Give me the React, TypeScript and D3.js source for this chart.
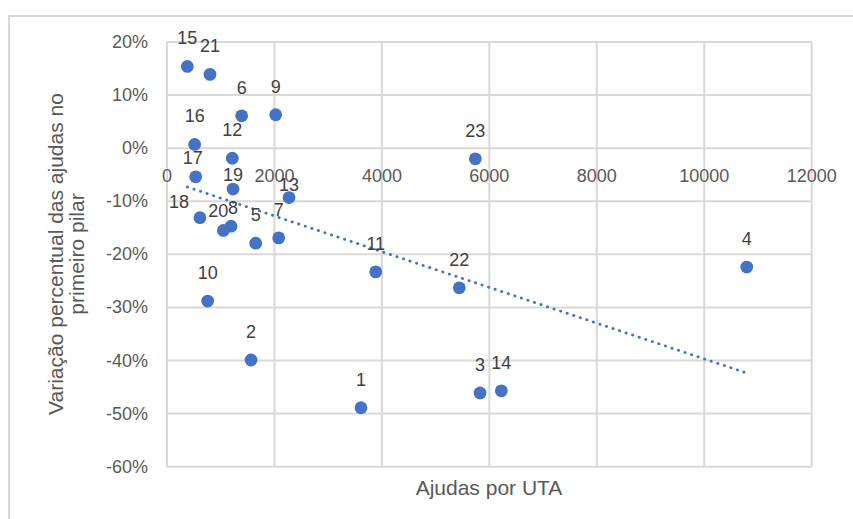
import React from "react";
import * as d3 from "d3";

// Regiões numeradas: ajudas por UTA vs variação percentual das ajudas no primeiro pilar
const regionIds = [1, 2, 3, 4, 5, 6, 7, 8, 9, 10, 11, 12, 13, 14, 15, 16, 17, 18, 19, 20, 21, 22, 23];
const ajudasPorUta = [3611, 1564, 5827, 10791, 1651, 1390, 2079, 1191, 2023, 757, 3885, 1216, 2271, 6223, 378, 515, 534, 614, 1229, 1049, 800, 5441, 5739];
const variacaoPct = [-48.9, -39.9, -46.1, -22.4, -17.9, 6.1, -16.9, -14.7, 6.3, -28.8, -23.3, -1.9, -9.3, -45.7, 15.4, 0.7, -5.4, -13.1, -7.7, -15.5, 13.9, -26.3, -2.0];

const xTicks = [0, 2000, 4000, 6000, 8000, 10000, 12000];
const yTicks = [20, 10, 0, -10, -20, -30, -40, -50, -60];

const xTitle = "Ajudas por UTA";
const yTitleLines = ["Variação percentual das ajudas no", "primeiro pilar"];

// Hand-placed label nudges for crowded points (default: centred above)
const labelNudge: Record<number, [number, number]> = {
  18: [-21, -16],
  20: [-5, -19],
  8: [2, -18],
  13: [0, -13],
  19: [0, -14],
  17: [-3, -19],
};

const W = 853;
const H = 519;
const BLUE = "#4472C4";
const GRID = "#d9d9d9";
const TEXT = "#595959";
const FONT = "'Liberation Sans', Arial, sans-serif";

export default function App() {
  const x = d3.scaleLinear().domain([0, 12000]).range([167, 811.7]);
  const y = d3.scaleLinear().domain([-60, 20]).range([466.7, 42]);

  const pts = regionIds.map((id, i) => ({ id, x: ajudasPorUta[i], y: variacaoPct[i] }));

  // Linear least-squares trendline over the data range
  const mx = d3.mean(pts, (p) => p.x)!;
  const my = d3.mean(pts, (p) => p.y)!;
  const sxy = d3.sum(pts, (p) => (p.x - mx) * (p.y - my));
  const sxx = d3.sum(pts, (p) => (p.x - mx) * (p.x - mx));
  const slope = sxy / sxx;
  const intercept = my - slope * mx;
  const [x0, x1] = d3.extent(pts, (p) => p.x) as [number, number];
  const trend = d3.line<number>()
    .x((v) => x(v))
    .y((v) => y(intercept + slope * v))([x0, x1]);

  return (
    <svg
      width={W}
      height={H}
      style={{ position: "absolute", left: 0, top: 0, background: "#fff" }}
      fontFamily={FONT}
    >
      <rect x={9} y={16} width={W + 20} height={H + 20} fill="#fff" stroke={GRID} strokeWidth={2} />

      {/* gridlines */}
      {yTicks.map((t) => (
        <line key={"gy" + t} x1={x(0)} x2={x(12000)} y1={y(t)} y2={y(t)} stroke={GRID} strokeWidth={2} />
      ))}
      {xTicks.map((t) => (
        <line key={"gx" + t} x1={x(t)} x2={x(t)} y1={y(20)} y2={y(-60)} stroke={GRID} strokeWidth={2} />
      ))}

      {/* y tick labels */}
      {yTicks.map((t) => (
        <text key={"ty" + t} x={148} y={y(t)} textAnchor="end" dominantBaseline="central" fontSize={18} fill={TEXT}>
          {t + "%"}
        </text>
      ))}
      {/* x tick labels, sitting under the 0% axis */}
      {xTicks.map((t) => (
        <text key={"tx" + t} x={x(t)} y={y(0) + 28} textAnchor="middle" dominantBaseline="central" fontSize={18} fill={TEXT}>
          {t}
        </text>
      ))}

      {/* trendline */}
      <path
        d={trend ?? ""}
        fill="none"
        stroke={BLUE}
        strokeWidth={2.8}
        strokeLinecap="round"
        strokeDasharray="0.3 6.6"
      />

      {/* points */}
      {pts.map((p) => (
        <circle key={"c" + p.id} cx={x(p.x)} cy={y(p.y)} r={6.4} fill={BLUE} />
      ))}

      {/* point labels */}
      {pts.map((p) => {
        const [dx, dy] = labelNudge[p.id] ?? [0, -28];
        return (
          <text
            key={"l" + p.id}
            x={x(p.x) + dx}
            y={y(p.y) + dy}
            textAnchor="middle"
            dominantBaseline="central"
            fontSize={18}
            fill="#404040"
          >
            {p.id}
          </text>
        );
      })}

      {/* axis titles */}
      <text x={489} y={487} textAnchor="middle" dominantBaseline="central" fontSize={21} fill={TEXT}>
        {xTitle}
      </text>
      {yTitleLines.map((line, i) => (
        <text
          key={"yt" + i}
          transform={`translate(${55 + i * 21},254) rotate(-90)`}
          textAnchor="middle"
          dominantBaseline="central"
          fontSize={21}
          fill={TEXT}
        >
          {line}
        </text>
      ))}
    </svg>
  );
}
